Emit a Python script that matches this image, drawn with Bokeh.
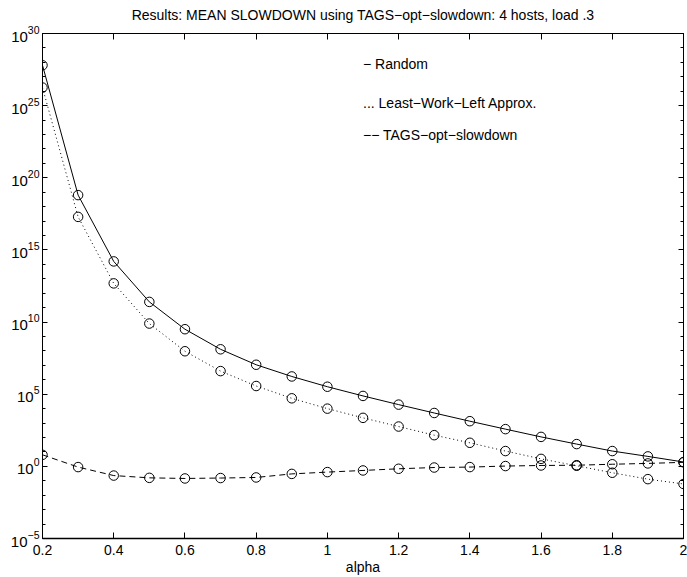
from bokeh.plotting import figure
from bokeh.models import Range1d, FixedTicker, LinearAxis, LogAxis, Label, NumeralTickFormatter
from bokeh.embed import file_html
from bokeh.resources import INLINE

# ---- data ----
alpha = [0.2, 0.3, 0.4, 0.5, 0.6, 0.7, 0.8, 0.9, 1.0, 1.1,
         1.2, 1.3, 1.4, 1.5, 1.6, 1.7, 1.8, 1.9, 2.0]
random_sd = [6.3e27, 6.3e18, 1.6e14, 2.5e11, 3.2e9, 1.3e8, 1.1e7, 1.7e6, 3.3e5, 7.6e4,
             1.9e4, 5.0e3, 1.35e3, 380, 110, 35, 11.5, 4.9, 2.0]
lwl_sd = [1.8e26, 1.95e17, 4.8e12, 7.9e9, 9.5e7, 4.0e6, 3.7e5, 5.2e4, 1.0e4, 2.3e3,
          575, 145, 43, 11.5, 3.3, 1.1, 0.36, 0.13, 0.06]
tags_sd = [6.3, 0.89, 0.23, 0.16, 0.145, 0.155, 0.17, 0.30, 0.40, 0.52,
           0.68, 0.83, 0.89, 1.05, 1.15, 1.2, 1.4, 1.6, 1.9]

x_ticks = [0.2, 0.4, 0.6, 0.8, 1.0, 1.2, 1.4, 1.6, 1.8, 2.0]
y_major = [1e-5, 1e0, 1e5, 1e10, 1e15, 1e20, 1e25, 1e30]
y_minor = [1e-5, 1e-4, 1e-3, 1e-2, 1e-1, 1e0, 1e1, 1e2, 1e3, 1e4, 1e5, 1e6, 1e7, 1e8,
           1e9, 1e10, 1e11, 1e12, 1e13, 1e14, 1e15, 1e16, 1e17, 1e18, 1e19, 1e20,
           1e21, 1e22, 1e23, 1e24, 1e25, 1e26, 1e27, 1e28, 1e29, 1e30]

title_text = "Results: MEAN SLOWDOWN using TAGS\u2212opt\u2212slowdown: 4 hosts, load .3"
x_label = "alpha"
legend_texts = ["\u2212 Random", "... Least\u2212Work\u2212Left Approx.", "\u2212\u2212 TAGS\u2212opt\u2212slowdown"]
legend_x = 1.1
legend_y = [7.9e27, 1.6e25, 1.0e23]

FONT = "Liberation Sans"

p = figure(width=687, height=577,
           x_range=Range1d(0.2, 2.0), y_range=Range1d(1e-5, 1e30),
           y_axis_type="log", output_backend="svg", toolbar_location=None,
           min_border_left=42, min_border_right=4, min_border_top=33, min_border_bottom=38)

p.background_fill_color = "white"
p.border_fill_color = "white"
p.outline_line_color = "black"
p.outline_line_width = 1

p.xgrid.grid_line_color = None
p.ygrid.grid_line_color = None

# bottom axis
xa = p.xaxis[0]
xa.ticker = FixedTicker(ticks=x_ticks)
xa.formatter = NumeralTickFormatter(format="0.[0]")
xa.axis_label = x_label
xa.axis_label_text_font = FONT
xa.axis_label_text_font_size = "14px"
xa.axis_label_text_font_style = "normal"
xa.axis_label_text_color = "black"
xa.axis_label_standoff = 1
xa.major_label_text_font = FONT
xa.major_label_text_font_size = "14px"
xa.major_label_text_color = "black"
xa.major_label_standoff = 6
xa.major_tick_in = 6
xa.major_tick_out = 0
xa.minor_tick_line_color = None
xa.axis_line_width = 1.5
xa.axis_line_color = "black"
xa.major_tick_line_color = "black"

# left axis
ya = p.yaxis[0]
ya.ticker = FixedTicker(ticks=y_major, minor_ticks=y_minor)
ya.major_label_text_font = FONT
ya.major_label_text_font_size = "15px"
ya.major_label_text_color = "black"
ya.major_label_standoff = 3
ya.major_tick_in = 5
ya.major_tick_out = 0
ya.minor_tick_in = 3
ya.minor_tick_out = 0
ya.axis_line_color = "black"
ya.major_tick_line_color = "black"
ya.minor_tick_line_color = "black"

# top axis: ticks of the box, carrying the chart title as its label
top = LinearAxis(ticker=FixedTicker(ticks=x_ticks), major_label_text_font_size="1px",
                 major_label_text_alpha=0, major_label_standoff=0,
                 major_tick_in=6, major_tick_out=0,
                 minor_tick_line_color=None, axis_line_color="black",
                 axis_label=title_text, axis_label_text_font=FONT,
                 axis_label_text_font_size="14px", axis_label_text_font_style="normal",
                 axis_label_text_color="black", axis_label_standoff=11)
p.add_layout(top, "above")
right = LogAxis(ticker=FixedTicker(ticks=y_major, minor_ticks=y_minor),
                major_label_text_font_size="1px", major_label_text_alpha=0,
                major_label_standoff=0,
                major_tick_in=5, major_tick_out=0, minor_tick_in=3, minor_tick_out=0,
                axis_line_color="black")
p.add_layout(right, "right")

# series
p.line(alpha, random_sd, line_color="black", line_width=1)
p.line(alpha, lwl_sd, line_color="black", line_width=1, line_dash="1 3")
p.line(alpha, tags_sd, line_color="black", line_width=1, line_dash="6 4")
for ys in (random_sd, lwl_sd, tags_sd):
    p.scatter(alpha, ys, marker="circle", size=9.5, fill_color=None,
              line_color="black", line_width=1)

for t, yv in zip(legend_texts, legend_y):
    p.add_layout(Label(x=legend_x, y=yv, text=t, text_font=FONT,
                       text_font_size="14px", text_baseline="middle",
                       text_color="black"))

open("out.html", "w").write(file_html(p, INLINE))
